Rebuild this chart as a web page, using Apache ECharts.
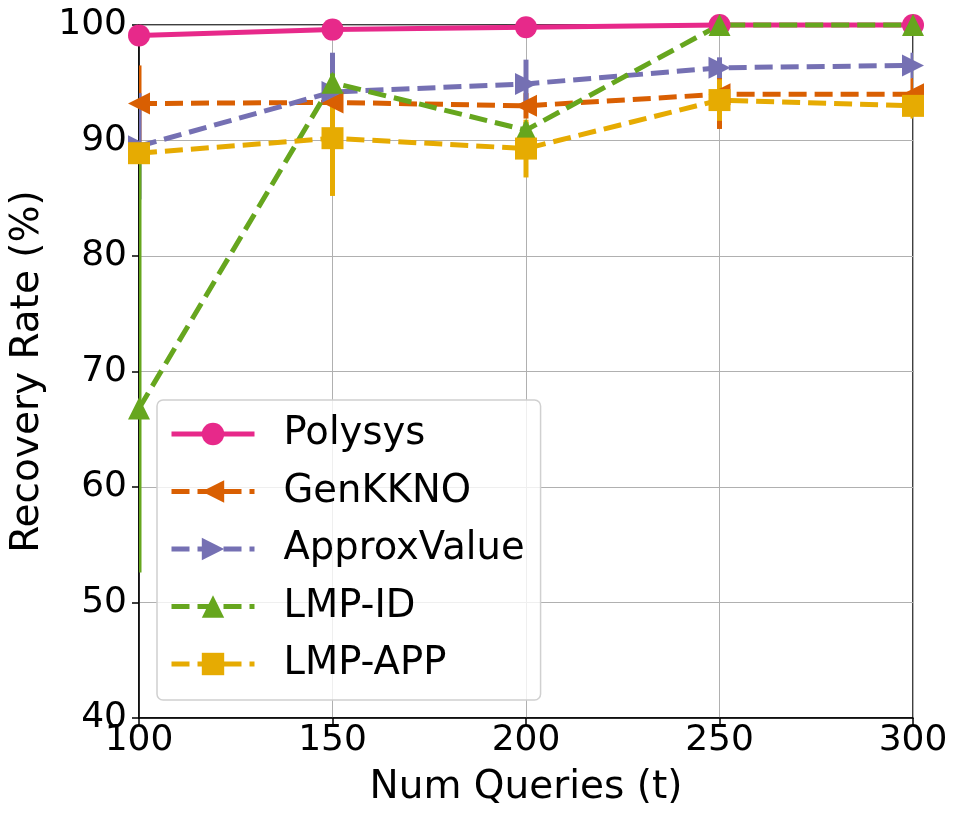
<!DOCTYPE html>
<html>
<head>
<meta charset="utf-8">
<script src="https://cdn.jsdelivr.net/npm/echarts@6/dist/echarts.min.js"></script>
<style>
  html, body { margin: 0; padding: 0; background: #fff; }
  #main { width: 959px; height: 819px; }
</style>
</head>
<body>
<div id="main"></div>
<script>
var queries = [100, 150, 200, 250, 300];
var yTicks = [40, 50, 60, 70, 80, 90, 100];

var polysys = [99.1, 99.6, 99.8, 100, 100];
var polysysLow = [98.8, 99.3, 99.6, 100, 100];
var polysysHigh = [99.4, 99.9, 100, 100, 100];

var genkkno = [93.2, 93.3, 93.0, 94.0, 94.0];
var genkknoLow = [89.9, 92.0, 91.9, 91.0, 92.6];
var genkknoHigh = [96.5, 94.6, 94.1, 97.0, 95.4];

var approx = [89.5, 94.2, 94.9, 96.3, 96.5];
var approxLow = [84.9, 90.8, 92.8, 95.4, 95.4];
var approxHigh = [94.1, 97.6, 97.0, 97.2, 97.6];

var lmpId = [66.8, 95.0, 90.9, 100, 100];
var lmpIdLow = [52.6, 94.2, 90.2, 100, 100];
var lmpIdHigh = [89.0, 95.8, 91.6, 100, 100];

var lmpApp = [88.9, 90.2, 89.3, 93.5, 93.0];
var lmpAppLow = [88.0, 85.2, 86.8, 91.7, 91.9];
var lmpAppHigh = [89.8, 95.2, 91.8, 95.3, 94.1];

var names = ['Polysys', 'GenKKNO', 'ApproxValue', 'LMP-ID', 'LMP-APP'];
var colors = ['#e7298a', '#d95f02', '#7570b3', '#66a61e', '#e6ab02'];

var chart = echarts.init(document.getElementById('main'));

function pairs(vals) {
  return queries.map(function(q, i) { return [q, vals[i]]; });
}

// vertical error bars, drawn with the axis scales
function errorSeries(name, color, low, high) {
  return {
    name: name + ' err',
    type: 'custom',
    z: 2,
    itemStyle: { color: color },
    data: queries.map(function(q, i) { return [q, low[i], high[i]]; }),
    renderItem: function(params, api) {
      var a = api.coord([api.value(0), api.value(1)]);
      var b = api.coord([api.value(0), api.value(2)]);
      return {
        type: 'line',
        shape: { x1: a[0], y1: a[1], x2: b[0], y2: b[1] },
        style: { stroke: color, lineWidth: 5 }
      };
    },
    clip: true,
    silent: true
  };
}

function lineSeries(name, color, vals, symbol, rotate, dashed) {
  return {
    name: name,
    type: 'line',
    z: 3,
    data: pairs(vals),
    symbol: symbol,
    symbolSize: 22,
    symbolRotate: rotate,
    showAllSymbol: true,
    clip: false,
    itemStyle: { color: color, opacity: 1 },
    lineStyle: { color: color, width: 5, type: dashed ? [18, 8] : 'solid' }
  };
}

var option = {
  animation: false,
  grid: {
    left: 138, right: 46, top: 25, bottom: 101,
    show: true, borderColor: '#000', borderWidth: 1.5
  },
  legend: {
    data: names,
    orient: 'vertical',
    left: 157, top: 400,
    padding: [14, 16, 16, 12],
    backgroundColor: 'rgba(255,255,255,0.8)',
    borderColor: '#d0d0d0',
    borderWidth: 1.5,
    borderRadius: 6,
    itemWidth: 83,
    itemHeight: 28,
    itemGap: 17.5,
    lineStyle: { width: 5 },
    textStyle: { fontSize: 38.5, fontFamily: 'DejaVu Sans', color: '#000', padding: [0, 0, 0, 24], lineHeight: 40 }
  },
  xAxis: {
    type: 'value',
    min: 100, max: 300, interval: 50,
    name: 'Num Queries (t)',
    nameLocation: 'middle',
    nameGap: 50,
    nameTextStyle: { fontSize: 39, fontFamily: 'DejaVu Sans', color: '#000' },
    axisLine: { onZero: false, lineStyle: { color: '#000', width: 1.5 } },
    axisTick: { show: true, length: 7, lineStyle: { color: '#000', width: 1.5 } },
    axisLabel: { fontSize: 36, fontFamily: 'DejaVu Sans', color: '#000', margin: 5 },
    splitLine: { show: true, lineStyle: { color: '#b0b0b0', width: 1 } }
  },
  yAxis: {
    type: 'value',
    min: 40, max: 100, interval: 10,
    name: 'Recovery Rate (%)',
    nameLocation: 'middle',
    nameGap: 92,
    nameRotate: 90,
    nameTextStyle: { fontSize: 39, fontFamily: 'DejaVu Sans', color: '#000' },
    axisLine: { show: true, lineStyle: { color: '#000', width: 1.5 } },
    axisTick: { show: true, length: 7, lineStyle: { color: '#000', width: 1.5 } },
    axisLabel: {
      fontSize: 36, fontFamily: 'DejaVu Sans', color: '#000', margin: 12,
      formatter: function(v) { return yTicks.indexOf(v) >= 0 ? String(v) : ''; }
    },
    splitLine: { show: true, lineStyle: { color: '#b0b0b0', width: 1 } }
  },
  series: [
    errorSeries('Polysys', colors[0], polysysLow, polysysHigh),
    lineSeries('Polysys', colors[0], polysys, 'circle', 0, false),
    errorSeries('GenKKNO', colors[1], genkknoLow, genkknoHigh),
    lineSeries('GenKKNO', colors[1], genkkno, 'triangle', 90, true),
    errorSeries('ApproxValue', colors[2], approxLow, approxHigh),
    lineSeries('ApproxValue', colors[2], approx, 'triangle', -90, true),
    errorSeries('LMP-ID', colors[3], lmpIdLow, lmpIdHigh),
    lineSeries('LMP-ID', colors[3], lmpId, 'triangle', 0, true),
    errorSeries('LMP-APP', colors[4], lmpAppLow, lmpAppHigh),
    lineSeries('LMP-APP', colors[4], lmpApp, 'rect', 0, true)
  ]
};

chart.setOption(option);
</script>
</body>
</html>
